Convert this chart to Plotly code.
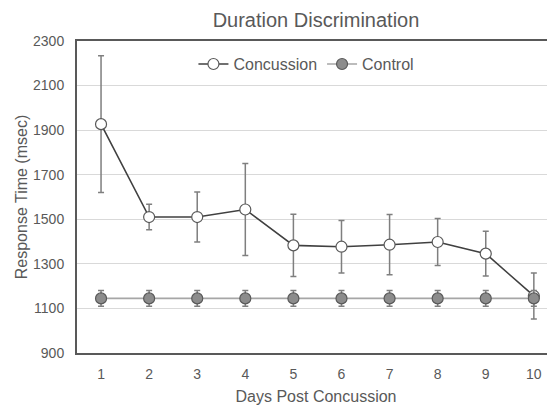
import plotly.graph_objects as go

days = [1, 2, 3, 4, 5, 6, 7, 8, 9, 10]
tick_labels = ["1", "2", "3", "4", "5", "6", "7", "8", "9", "10"]
concussion = [1927, 1510, 1510, 1544, 1383, 1377, 1386, 1398, 1346, 1156]
concussion_err = [307, 57, 112, 206, 140, 118, 135, 105, 100, 103]
control = [1145, 1145, 1145, 1145, 1145, 1145, 1145, 1145, 1145, 1145]
control_err = [35, 35, 35, 35, 35, 35, 35, 35, 35, 35]
y_ticks = [900, 1100, 1300, 1500, 1700, 1900, 2100, 2300]

FONT = "Liberation Sans, Arial, sans-serif"
TXT = "#595959"

# page has an 8px body margin, so the figure is sized to fit the 555x405 window
W, H = 547, 397

fig = go.Figure()
fig.add_trace(go.Scatter(
    x=days, y=concussion, name="Concussion", mode="lines+markers",
    line=dict(color="#404040", width=1.6),
    marker=dict(symbol="circle", size=11, color="white",
                line=dict(color="#595959", width=1.2)),
    error_y=dict(type="data", array=concussion_err, visible=True,
                 color="#7f7f7f", thickness=1.5, width=3),
))
fig.add_trace(go.Scatter(
    x=days, y=control, name="Control", mode="lines+markers",
    line=dict(color="#a6a6a6", width=1.6),
    marker=dict(symbol="circle", size=11, color="#8c8c8c",
                line=dict(color="#595959", width=1.2)),
    error_y=dict(type="data", array=control_err, visible=True,
                 color="#7f7f7f", thickness=1.5, width=3),
))

fig.update_layout(
    width=W, height=H,
    margin=dict(l=69, r=0, t=33, b=52),
    paper_bgcolor="white", plot_bgcolor="white",
    font=dict(family=FONT, color=TXT, size=14),
    title=dict(text="Duration Discrimination", x=0.5, xref="paper",
               y=1 - 12 / H, yref="container", yanchor="middle",
               xanchor="center", font=dict(size=20, color=TXT)),
    legend=dict(orientation="h", x=0.48, xanchor="center", y=0.926,
                yanchor="middle", font=dict(size=16, color=TXT),
                bgcolor="rgba(0,0,0,0)", itemwidth=30),
    showlegend=True,
)
fig.update_xaxes(
    range=[0.5, 10.44], tickmode="array", tickvals=days, ticktext=tick_labels,
    showgrid=False, showline=True, linecolor="#595959", linewidth=2,
    mirror=True, ticks="", zeroline=False, ticklabelstandoff=7,
    title=dict(text="Days Post Concussion", font=dict(size=16, color=TXT), standoff=10),
    tickfont=dict(size=14, color=TXT),
)
fig.update_yaxes(
    range=[900, 2300], tickvals=y_ticks,
    showgrid=True, gridcolor="#d9d9d9", gridwidth=1,
    showline=True, linecolor="#595959", linewidth=2, ticks="",
    zeroline=False, ticklabelstandoff=8,
    title=dict(text="Response Time (msec)", font=dict(size=16, color=TXT), standoff=1),
    tickfont=dict(size=14, color=TXT),
)

fig.write_html("out.html")
